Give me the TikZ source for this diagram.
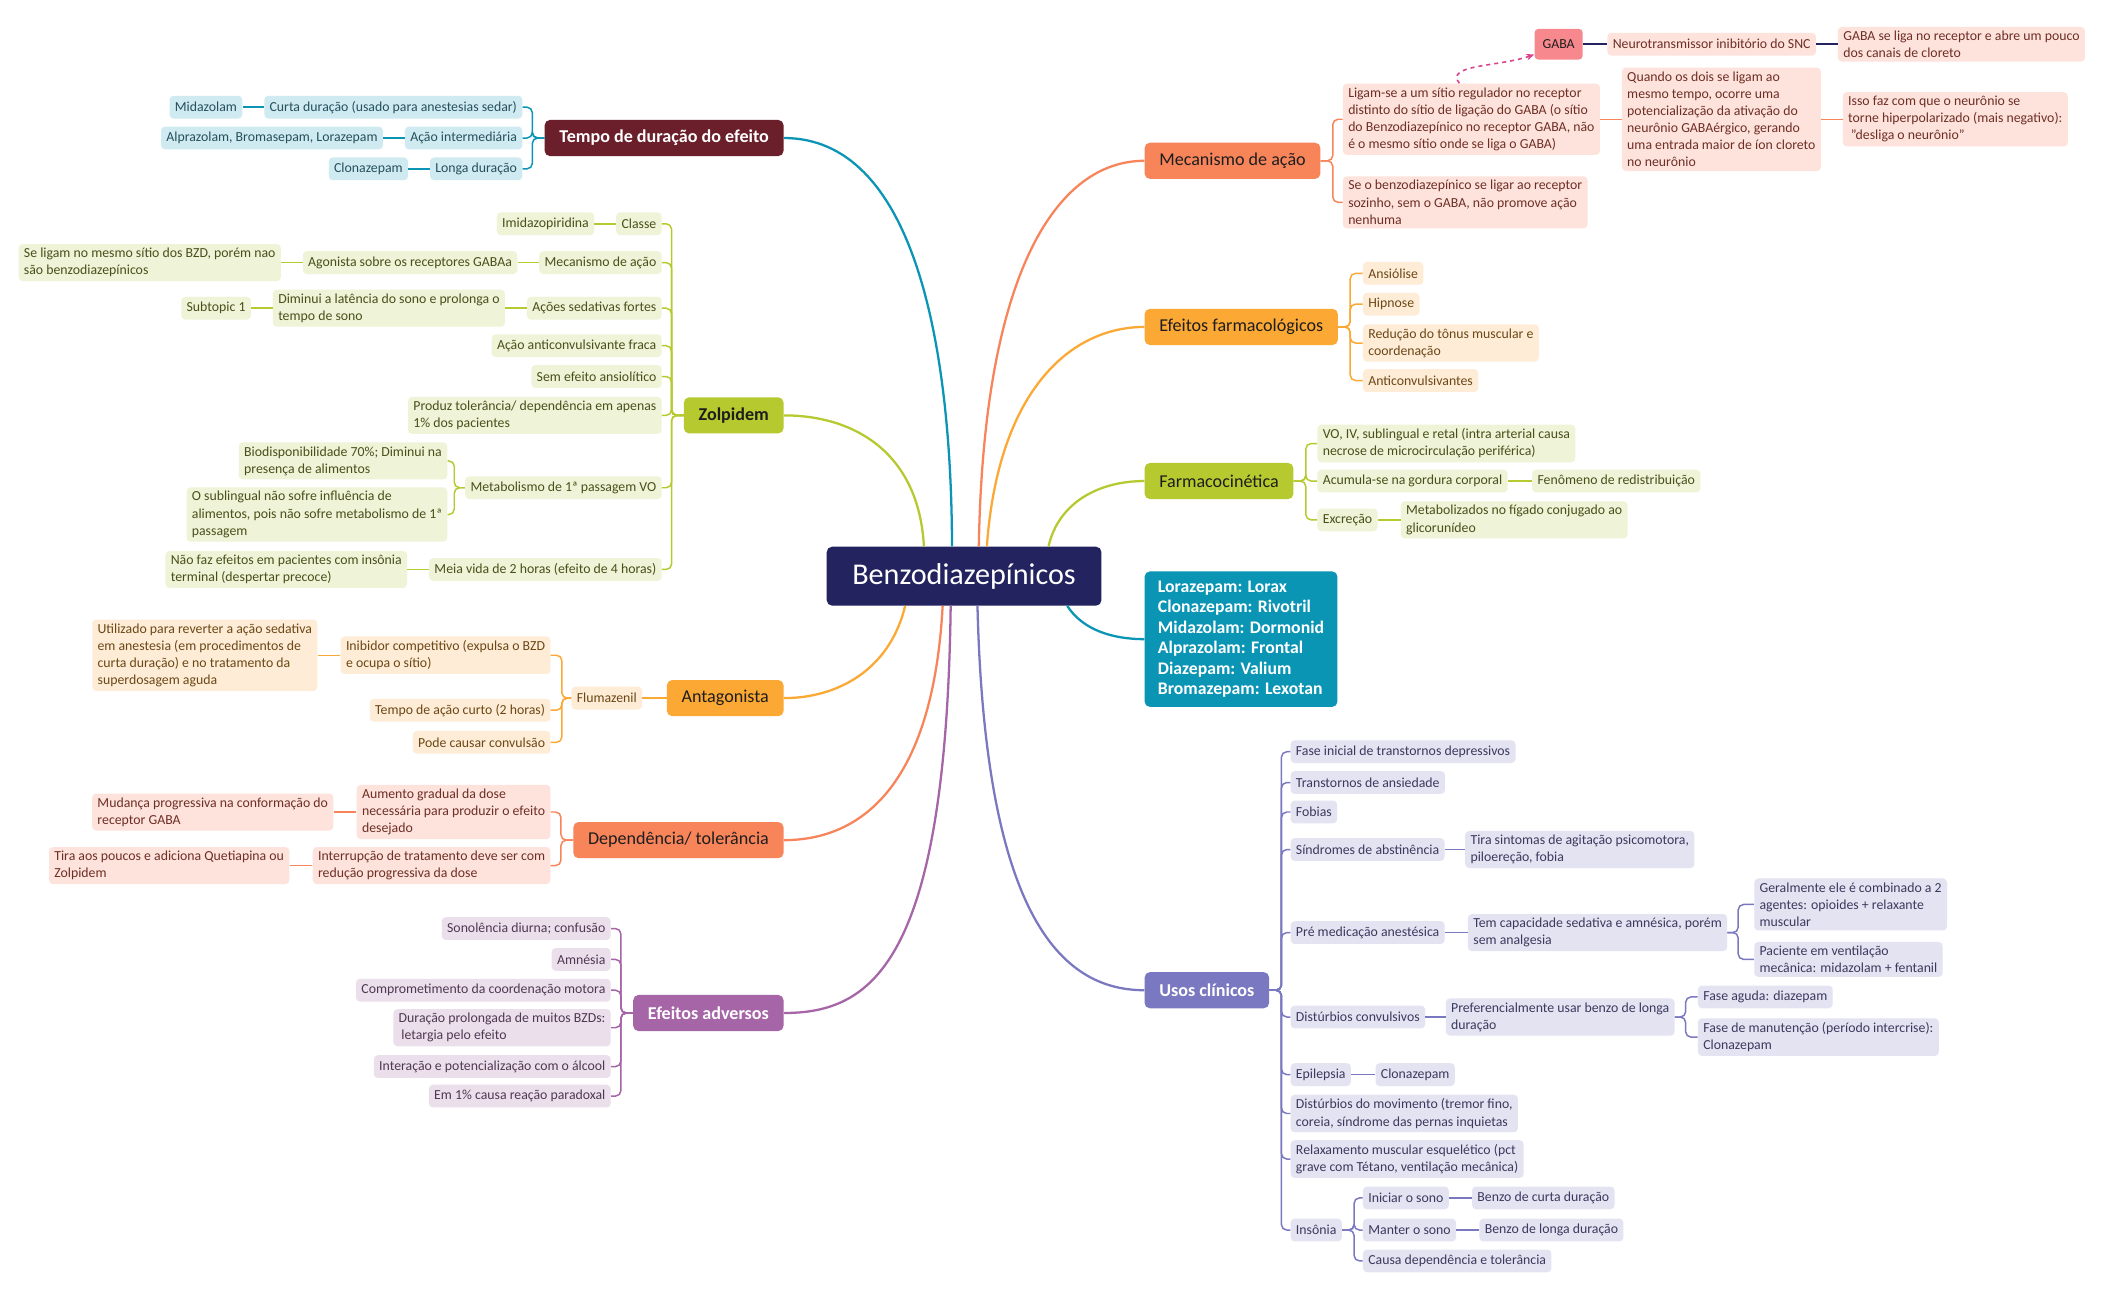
\documentclass[tikz,border=0pt]{standalone}
\usepackage{fontspec}
\setmainfont{Carlito}
\usetikzlibrary{arrows.meta}
\definecolor{cNavy}{HTML}{22235F}
\definecolor{cTeal}{HTML}{0B95B5}
\definecolor{cTealL}{HTML}{D0EAF1}
\definecolor{cTealT}{HTML}{24505C}
\definecolor{cMaroon}{HTML}{6A1F2A}
\definecolor{cGreen}{HTML}{B6C92E}
\definecolor{cGreenL}{HTML}{EFF3D7}
\definecolor{cGreenT}{HTML}{4A4F1A}
\definecolor{cOrange}{HTML}{FBA834}
\definecolor{cOrangeL}{HTML}{FEECD6}
\definecolor{cOrangeT}{HTML}{6B4716}
\definecolor{cCoral}{HTML}{F8845A}
\definecolor{cCoralL}{HTML}{FDE3DC}
\definecolor{cCoralT}{HTML}{6E2E24}
\definecolor{cPurp}{HTML}{A565A7}
\definecolor{cPurpL}{HTML}{ECDFEC}
\definecolor{cPurpT}{HTML}{4F3852}
\definecolor{cUsos}{HTML}{7A78C0}
\definecolor{cUsosL}{HTML}{E4E3F2}
\definecolor{cUsosT}{HTML}{3A395E}
\definecolor{cGaba}{HTML}{F7888D}
\definecolor{cMag}{HTML}{D9448F}
\definecolor{cDark}{HTML}{1E1E1E}
\begin{document}
\begin{tikzpicture}[x=1pt,y=-1pt,
  leaf/.style={rounded corners=3pt, inner xsep=4pt, inner ysep=3pt, minimum height=17pt, align=left, font=\fontsize{10.3}{12.8}\selectfont},
  lT/.style={leaf, fill=cTealL, text=cTealT},
  lG/.style={leaf, fill=cGreenL, text=cGreenT},
  lO/.style={leaf, fill=cOrangeL, text=cOrangeT},
  lC/.style={leaf, fill=cCoralL, text=cCoralT},
  lP/.style={leaf, fill=cPurpL, text=cPurpT},
  lU/.style={leaf, fill=cUsosL, text=cUsosT},
  mainb/.style={rounded corners=4pt, minimum height=27pt, inner xsep=11pt, font=\fontsize{13.5}{16}\selectfont},
  mainbf/.style={mainb, font=\bfseries\fontsize{13.5}{16}\selectfont},
  wT/.style={draw=cTeal, line width=1.1pt, rounded corners=4pt},
  wG/.style={draw=cGreen, line width=1.1pt, rounded corners=4pt},
  wO/.style={draw=cOrange, line width=1.1pt, rounded corners=4pt},
  wC/.style={draw=cCoral, line width=1.1pt, rounded corners=4pt},
  wP/.style={draw=cPurp, line width=1.1pt, rounded corners=4pt},
  wU/.style={draw=cUsos, line width=1.1pt, rounded corners=4pt},
  wN/.style={draw=cNavy, line width=1.1pt},
  curve/.style={line width=1.7pt},
]
\fill[white] (0,0) rectangle (1568,970);
\useasboundingbox (0,0) rectangle (1568,970);

% ---------- central
\node[fill=cNavy, text=white, rounded corners=4pt, minimum width=205pt, minimum height=44pt, font=\fontsize{22.5}{26}\selectfont] (ctr) at (719.5,430) {Benzodiazepínicos};

% ---------- main branches
\node[mainbf, fill=cMaroon, text=white, anchor=east] (tempo) at (585,103) {Tempo de duração do efeito};
\node[mainbf, fill=cGreen, text=cDark, anchor=east] (zolp) at (585,310) {Zolpidem};
\node[mainb, fill=cOrange, text=cDark, anchor=east] (antag) at (585,521) {Antagonista};
\node[mainb, fill=cCoral, text=cDark, anchor=east] (depend) at (585,627) {Dependência/ tolerância};
\node[mainbf, fill=cPurp, text=white, anchor=east] (advers) at (585,756) {Efeitos adversos};
\node[mainb, fill=cCoral, text=cDark, anchor=west] (mec) at (854,120) {Mecanismo de ação};
\node[mainb, fill=cOrange, text=cDark, anchor=west] (efarm) at (854,244) {Efeitos farmacológicos};
\node[mainb, fill=cGreen, text=cDark, anchor=west] (fcin) at (854,359) {Farmacocinética};
\node[fill=cTeal, text=white, rounded corners=4pt, align=left, font=\bfseries\fontsize{13.2}{15.3}\selectfont, inner xsep=10pt, inner ysep=7pt, anchor=west] (drugs) at (854,477) {Lorazepam: Lorax\\Clonazepam: Rivotril\\Midazolam: Dormonid\\Alprazolam: Frontal\\Diazepam: Valium\\Bromazepam: Lexotan};
\node[mainbf, fill=cUsos, text=white, anchor=west] (usos) at (854,739) {Usos clínicos};

% ---------- main curves
\draw[curve, cTeal] ([xshift=-9pt]ctr.north) .. controls (710,250) and (680,103) .. (tempo.east);
\draw[curve, cGreen] ([xshift=-30pt]ctr.north) .. controls (686,340) and (640,310) .. (zolp.east);
\draw[curve, cOrange] ([xshift=-44pt]ctr.south) .. controls (664,500) and (625,521) .. (antag.east);
\draw[curve, cCoral] ([xshift=-16pt]ctr.south) .. controls (696,590) and (640,627) .. (depend.east);
\draw[curve, cPurp] ([xshift=-10pt]ctr.south) .. controls (706,720) and (650,756) .. (advers.east);
\draw[curve, cCoral] ([xshift=11pt]ctr.north) .. controls (734,200) and (790,120) .. (mec.west);
\draw[curve, cOrange] ([xshift=17pt]ctr.north) .. controls (745,290) and (800,244) .. (efarm.west);
\draw[curve, cGreen] ([xshift=63pt]ctr.north) .. controls (790,375) and (820,359) .. (fcin.west);
\draw[curve, cTeal] ([xshift=77pt]ctr.south) .. controls (808,470) and (830,477) .. (drugs.west);
\draw[curve, cUsos] ([xshift=10pt]ctr.south) .. controls (735,680) and (790,739) .. (usos.west);

% ---------- Tempo de duração
\node[lT, anchor=east] (curta) at (390,80) {Curta duração (usado para anestesias sedar)};
\node[lT, anchor=east] (acao) at (390,103) {Ação intermediária};
\node[lT, anchor=east] (longa) at (390,126) {Longa duração};
\node[lT, anchor=east] (mida) at ([xshift=-16pt]curta.west) {Midazolam};
\node[lT, anchor=east] (alpra) at ([xshift=-16pt]acao.west) {Alprazolam, Bromasepam, Lorazepam};
\node[lT, anchor=east] (clona) at ([xshift=-16pt]longa.west) {Clonazepam};
\foreach \c in {curta,acao,longa} \draw[wT] (tempo.west) -- ++(-9,0) |- (\c.east);
\draw[wT] (curta.west) -- (mida.east);
\draw[wT] (acao.west) -- (alpra.east);
\draw[wT] (longa.west) -- (clona.east);

% ---------- Zolpidem
\node[lG, anchor=east] (classe) at (494,167) {Classe};
\node[lG, anchor=east] (mecz) at (494,196) {Mecanismo de ação};
\node[lG, anchor=east] (acoes) at (494,230) {Ações sedativas fortes};
\node[lG, anchor=east] (anticonv) at (494,258) {Ação anticonvulsivante fraca};
\node[lG, anchor=east] (semef) at (494,281) {Sem efeito ansiolítico};
\node[lG, anchor=east] (produz) at (494,310) {Produz tolerância/ dependência em apenas\\1\% dos pacientes};
\node[lG, anchor=east] (metab) at (494,364) {Metabolismo de 1ª passagem VO};
\node[lG, anchor=east] (meia) at (494,425) {Meia vida de 2 horas (efeito de 4 horas)};
\node[lG, anchor=east] (imid) at ([xshift=-16pt]classe.west) {Imidazopiridina};
\node[lG, anchor=east] (agon) at ([xshift=-16pt]mecz.west) {Agonista sobre os receptores GABAa};
\node[lG, anchor=east] (seligam) at ([xshift=-16pt]agon.west) {Se ligam no mesmo sítio dos BZD, porém nao\\são benzodiazepínicos};
\node[lG, anchor=east] (diminui) at ([xshift=-16pt]acoes.west) {Diminui a latência do sono e prolonga o\\tempo de sono};
\node[lG, anchor=east] (subt) at ([xshift=-16pt]diminui.west) {Subtopic 1};
\node[lG, anchor=east] (biod) at (334,344) {Biodisponibilidade 70\%; Diminui na\\presença de alimentos};
\node[lG, anchor=east] (subl) at (334,384) {O sublingual não sofre influência de\\alimentos, pois não sofre metabolismo de 1ª\\passagem};
\node[lG, anchor=east] (naofaz) at ([xshift=-16pt]meia.west) {Não faz efeitos em pacientes com insônia\\terminal (despertar precoce)};
\foreach \c in {classe,mecz,acoes,anticonv,semef,produz,metab,meia} \draw[wG] (zolp.west) -- ++(-9,0) |- (\c.east);
\draw[wG] (classe.west) -- (imid.east);
\draw[wG] (mecz.west) -- (agon.east);
\draw[wG] (agon.west) -- (seligam.east);
\draw[wG] (acoes.west) -- (diminui.east);
\draw[wG] (diminui.west) -- (subt.east);
\foreach \c in {biod,subl} \draw[wG] (metab.west) -- ++(-8,0) |- (\c.east);
\draw[wG] (meia.west) -- (naofaz.east);

% ---------- Antagonista
\node[lO, anchor=east] (fluma) at ([xshift=-18pt]antag.west) {Flumazenil};
\node[lO, anchor=east] (inib) at (411,489) {Inibidor competitivo (expulsa o BZD\\e ocupa o sítio)};
\node[lO, anchor=east] (tempoac) at (411,530) {Tempo de ação curto (2 horas)};
\node[lO, anchor=east] (pode) at (411,554) {Pode causar convulsão};
\node[lO, anchor=east] (utiliz) at ([xshift=-17pt]inib.west) {Utilizado para reverter a ação sedativa\\em anestesia (em procedimentos de\\curta duração) e no tratamento da\\superdosagem aguda};
\draw[wO] (antag.west) -- (fluma.east);
\foreach \c in {inib,tempoac,pode} \draw[wO] (fluma.west) -- ++(-7,0) |- (\c.east);
\draw[wO] (inib.west) -- (utiliz.east);

% ---------- Dependência
\node[lC, anchor=east] (aumento) at (411,606) {Aumento gradual da dose\\necessária para produzir o efeito\\desejado};
\node[lC, anchor=east] (interr) at (411,646) {Interrupção de tratamento deve ser com\\redução progressiva da dose};
\node[lC, anchor=east] (mudanca) at ([xshift=-17pt]aumento.west) {Mudança progressiva na conformação do\\receptor GABA};
\node[lC, anchor=east] (tira) at ([xshift=-17pt]interr.west) {Tira aos poucos e adiciona Quetiapina ou\\Zolpidem};
\foreach \c in {aumento,interr} \draw[wC] (depend.west) -- ++(-9,0) |- (\c.east);
\draw[wC] (aumento.west) -- (mudanca.east);
\draw[wC] (interr.west) -- (tira.east);

% ---------- Efeitos adversos
\node[lP, anchor=east] (sono) at (456,693) {Sonolência diurna; confusão};
\node[lP, anchor=east] (amn) at (456,716) {Amnésia};
\node[lP, anchor=east] (compr) at (456,739) {Comprometimento da coordenação motora};
\node[lP, anchor=east] (durac) at (456,767) {Duração prolongada de muitos BZDs:\\\hspace*{2pt}letargia pelo efeito};
\node[lP, anchor=east] (inter) at (456,796) {Interação e potencialização com o álcool};
\node[lP, anchor=east] (em1) at (456,818) {Em 1\% causa reação paradoxal};
\foreach \c in {sono,amn,compr,durac,inter,em1} \draw[wP] (advers.west) -- ++(-9,0) |- (\c.east);

% ---------- Mecanismo de ação
\node[lC, anchor=west] (ligam) at (1002,89) {Ligam-se a um sítio regulador no receptor\\distinto do sítio de ligação do GABA (o sítio\\do Benzodiazepínico no receptor GABA, não\\é o mesmo sítio onde se liga o GABA)};
\node[lC, anchor=west] (seo) at (1002,151) {Se o benzodiazepínico se ligar ao receptor\\sozinho, sem o GABA, não promove ação\\nenhuma};
\node[lC, anchor=west] (quando) at ([xshift=16pt]ligam.east) {Quando os dois se ligam ao\\mesmo tempo, ocorre uma\\potencialização da ativação do\\neurônio GABAérgico, gerando\\uma entrada maior de íon cloreto\\no neurônio};
\node[lC, anchor=west] (isso) at ([xshift=16pt]quando.east) {Isso faz com que o neurônio se\\torne hiperpolarizado (mais negativo):\\\hspace*{2pt}"desliga o neurônio"};
\foreach \c in {ligam,seo} \draw[wC] (mec.east) -- ++(9,0) |- (\c.west);
\draw[wC] (ligam.east) -- (quando.west);
\draw[wC] (quando.east) -- (isso.west);

\node[leaf, fill=cGaba, text=cDark, minimum width=36pt, minimum height=23pt, align=center, anchor=west] (gaba) at (1145,33) {GABA};
\node[lC, anchor=west] (neuro) at ([xshift=18pt]gaba.east) {Neurotransmissor inibitório do SNC};
\node[lC, anchor=west] (gabase) at ([xshift=16pt]neuro.east) {GABA se liga no receptor e abre um pouco\\dos canais de cloreto};
\draw[wN] (gaba.east) -- (neuro.west);
\draw[wN] (neuro.east) -- (gabase.west);
\draw[cMag, line width=1.2pt, dashed, -{Stealth[length=6pt,width=5pt]}] ([xshift=-9pt]ligam.north) .. controls (1078,48) and (1118,50) .. ([yshift=4pt]gaba.south west);

% ---------- Efeitos farmacológicos
\node[lO, anchor=west] (ansio) at (1017,204) {Ansiólise};
\node[lO, anchor=west] (hipn) at (1017,227) {Hipnose};
\node[lO, anchor=west] (reduc) at (1017,256) {Redução do tônus muscular e\\coordenação};
\node[lO, anchor=west] (antic) at (1017,284) {Anticonvulsivantes};
\foreach \c in {ansio,hipn,reduc,antic} \draw[wO] (efarm.east) -- ++(9,0) |- (\c.west);

% ---------- Farmacocinética
\node[lG, anchor=west] (vias) at (983,331) {VO, IV, sublingual e retal (intra arterial causa\\necrose de microcirculação periférica)};
\node[lG, anchor=west] (acum) at (983,359) {Acumula-se na gordura corporal};
\node[lG, anchor=west] (excr) at (983,388) {Excreção};
\node[lG, anchor=west] (feno) at ([xshift=18pt]acum.east) {Fenômeno de redistribuição};
\node[lG, anchor=west] (metfig) at ([xshift=17pt]excr.east) {Metabolizados no fígado conjugado ao\\glicorunídeo};
\foreach \c in {vias,acum,excr} \draw[wG] (fcin.east) -- ++(9,0) |- (\c.west);
\draw[wG] (acum.east) -- (feno.west);
\draw[wG] (excr.east) -- (metfig.west);

% ---------- Usos clínicos
\node[lU, anchor=west] (fase) at (963,561) {Fase inicial de transtornos depressivos};
\node[lU, anchor=west] (transt) at (963,584) {Transtornos de ansiedade};
\node[lU, anchor=west] (fob) at (963,606) {Fobias};
\node[lU, anchor=west] (sind) at (963,634) {Síndromes de abstinência};
\node[lU, anchor=west] (pre) at (963,696) {Pré medicação anestésica};
\node[lU, anchor=west] (distc) at (963,759) {Distúrbios convulsivos};
\node[lU, anchor=west] (epil) at (963,802) {Epilepsia};
\node[lU, anchor=west] (distm) at (963,831) {Distúrbios do movimento (tremor fino,\\coreia, síndrome das pernas inquietas};
\node[lU, anchor=west] (relax) at (963,865) {Relaxamento muscular esquelético (pct\\grave com Tétano, ventilação mecânica)};
\node[lU, anchor=west] (ins) at (963,918) {Insônia};
\foreach \c in {fase,transt,fob,sind,pre,distc,epil,distm,relax,ins} \draw[wU] (usos.east) -- ++(9,0) |- (\c.west);

\node[lU, anchor=west] (tirasin) at ([xshift=15pt]sind.east) {Tira sintomas de agitação psicomotora,\\piloereção, fobia};
\draw[wU] (sind.east) -- (tirasin.west);

\node[lU, anchor=west] (temcap) at ([xshift=17pt]pre.east) {Tem capacidade sedativa e amnésica, porém\\sem analgesia};
\node[lU, anchor=west] (geral) at (1309,675) {Geralmente ele é combinado a 2\\agentes: opioides + relaxante\\muscular};
\node[lU, anchor=west] (pacie) at (1309,716) {Paciente em ventilação\\mecânica: midazolam + fentanil};
\draw[wU] (pre.east) -- (temcap.west);
\foreach \c in {geral,pacie} \draw[wU] (temcap.east) -- ++(8,0) |- (\c.west);

\node[lU, anchor=west] (prefer) at ([xshift=15pt]distc.east) {Preferencialmente usar benzo de longa\\duração};
\node[lU, anchor=west] (fasea) at (1267,744) {Fase aguda: diazepam};
\node[lU, anchor=west] (fasem) at (1267,774) {Fase de manutenção (período intercrise):\\Clonazepam};
\draw[wU] (distc.east) -- (prefer.west);
\foreach \c in {fasea,fasem} \draw[wU] (prefer.east) -- ++(8,0) |- (\c.west);

\node[lU, anchor=west] (clon2) at ([xshift=18pt]epil.east) {Clonazepam};
\draw[wU] (epil.east) -- (clon2.west);

\node[lU, anchor=west] (inic) at (1017,894) {Iniciar o sono};
\node[lU, anchor=west] (mant) at (1017,918) {Manter o sono};
\node[lU, anchor=west] (causa) at (1017,941) {Causa dependência e tolerância};
\node[lU, anchor=west] (bcurta) at ([xshift=17pt]inic.east) {Benzo de curta duração};
\node[lU, anchor=west] (blonga) at ([xshift=17pt]mant.east) {Benzo de longa duração};
\foreach \c in {inic,mant,causa} \draw[wU] (ins.east) -- ++(9,0) |- (\c.west);
\draw[wU] (inic.east) -- (bcurta.west);
\draw[wU] (mant.east) -- (blonga.west);
\end{tikzpicture}
\end{document}
